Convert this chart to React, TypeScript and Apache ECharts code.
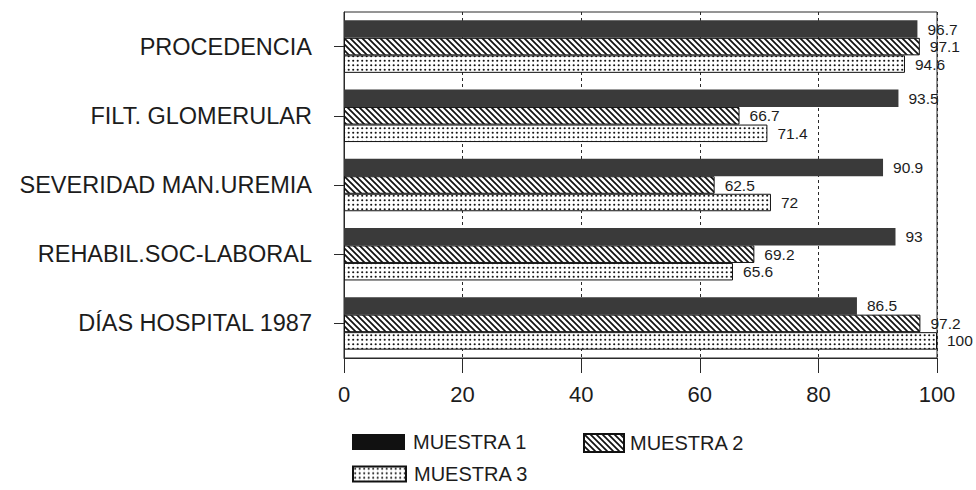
import React, { useEffect, useRef } from "react";
import * as echarts from "echarts";

const categories = [
  "PROCEDENCIA",
  "FILT. GLOMERULAR",
  "SEVERIDAD MAN.UREMIA",
  "REHABIL.SOC-LABORAL",
  "DÍAS HOSPITAL 1987",
];
const seriesNames = ["MUESTRA 1", "MUESTRA 2", "MUESTRA 3"];
const muestra1 = [96.7, 93.5, 90.9, 93, 86.5];
const muestra2 = [97.1, 66.7, 62.5, 69.2, 97.2];
const muestra3 = [94.6, 71.4, 72, 65.6, 100];
const xMin = 0;
const xMax = 100;
const xStep = 20;

const FONT = "'Liberation Sans', Arial, Helvetica, sans-serif";
const INK = "#1c1c1c";

// diagonal "\" hatching tile
function hatchTile(): HTMLCanvasElement {
  const size = 6;
  const c = document.createElement("canvas");
  c.width = size;
  c.height = size;
  const g = c.getContext("2d")!;
  g.fillStyle = "#ffffff";
  g.fillRect(0, 0, size, size);
  g.strokeStyle = "#111111";
  g.lineWidth = 1.7;
  g.beginPath();
  g.moveTo(-1, -1);
  g.lineTo(size + 1, size + 1);
  g.moveTo(-1, size - 1);
  g.lineTo(1, size + 1);
  g.moveTo(size - 1, -1);
  g.lineTo(size + 1, 1);
  g.stroke();
  return c;
}

// fine dot-screen tile
function dotTile(): HTMLCanvasElement {
  const size = 9;
  const c = document.createElement("canvas");
  c.width = size;
  c.height = size;
  const g = c.getContext("2d")!;
  g.fillStyle = "#ffffff";
  g.fillRect(0, 0, size, size);
  g.fillStyle = "#151515";
  const pts = [
    [2.2, 2.2],
    [6.7, 2.2],
    [2.2, 6.7],
    [6.7, 6.7],
  ];
  for (const [x, y] of pts) {
    g.beginPath();
    g.arc(x, y, 1.05, 0, Math.PI * 2);
    g.fill();
  }
  return c;
}

export default function App() {
  const ref = useRef<HTMLDivElement>(null);

  useEffect(() => {
    if (!ref.current) return;
    const chart = echarts.init(ref.current, undefined, { renderer: "svg" });

    const hatch = hatchTile();
    const dots = dotTile();
    const hatchFill: any = { image: hatch, repeat: "repeat", imageWidth: 6, imageHeight: 6 };
    const dotFill: any = { image: dots, repeat: "repeat", imageWidth: 9, imageHeight: 9 };

    const labelStyle = {
      show: true,
      position: "right" as const,
      distance: 10,
      fontSize: 15.5,
      fontFamily: FONT,
      color: INK,
    };

    const legendText = { fontSize: 20, fontFamily: FONT, color: INK };

    chart.setOption({
      animation: false,
      backgroundColor: "#ffffff",
      grid: {
        left: 344,
        right: 39,
        top: 12,
        bottom: 132,
        show: true,
        borderColor: "#2a2a2a",
        borderWidth: 1,
      },
      legend: [
        {
          data: [{ name: seriesNames[0], itemStyle: { color: "#111111" } }],
          left: 352,
          top: 432,
          padding: 0,
          icon: "rect",
          itemWidth: 53,
          itemHeight: 16,
          selectedMode: false,
          textStyle: { ...legendText, padding: [0, 0, 0, 3] },
        },
        {
          data: [seriesNames[1]],
          left: 583,
          top: 433,
          padding: 0,
          icon: "rect",
          itemWidth: 40,
          itemHeight: 18,
          selectedMode: false,
          textStyle: { ...legendText, padding: [0, 0, 0, 1] },
        },
        {
          data: [seriesNames[2]],
          left: 352,
          top: 464,
          padding: 0,
          icon: "rect",
          itemWidth: 53,
          itemHeight: 15,
          selectedMode: false,
          textStyle: { ...legendText, padding: [0, 0, 0, 3] },
        },
      ],
      xAxis: {
        type: "value",
        min: xMin,
        max: xMax,
        interval: xStep,
        axisLine: { show: true, lineStyle: { color: "#2a2a2a", width: 1 } },
        axisTick: { show: true, length: 15, lineStyle: { color: "#2a2a2a", width: 1 } },
        axisLabel: { fontSize: 22, fontFamily: FONT, color: INK, margin: 25 },
        splitLine: {
          show: true,
          lineStyle: { color: "#2a2a2a", type: [3, 3], width: 1 },
        },
      },
      yAxis: {
        type: "category",
        data: categories,
        inverse: true,
        axisLine: { show: true, lineStyle: { color: "#2a2a2a", width: 1 } },
        axisTick: {
          show: true,
          alignWithLabel: true,
          length: 10,
          lineStyle: { color: "#2a2a2a", width: 1 },
        },
        axisLabel: { fontSize: 23.5, fontFamily: FONT, color: INK, margin: 32 },
        splitLine: { show: false },
      },
      series: [
        {
          name: seriesNames[0],
          type: "bar",
          data: muestra1,
          barWidth: 17.5,
          barGap: "0%",
          itemStyle: { color: "#3a3a3a" },
          label: labelStyle,
        },
        {
          name: seriesNames[1],
          type: "bar",
          data: muestra2,
          barWidth: 17.5,
          barGap: "0%",
          itemStyle: { color: hatchFill, borderColor: "#111111", borderWidth: 1 },
          label: labelStyle,
        },
        {
          name: seriesNames[2],
          type: "bar",
          data: muestra3,
          barWidth: 17.5,
          barGap: "0%",
          itemStyle: { color: dotFill, borderColor: "#111111", borderWidth: 1 },
          label: labelStyle,
        },
      ],
    });

    return () => chart.dispose();
  }, []);

  return (
    <div
      ref={ref}
      style={{ position: "fixed", left: 0, top: 0, width: 976, height: 490, background: "#fff" }}
    />
  );
}
